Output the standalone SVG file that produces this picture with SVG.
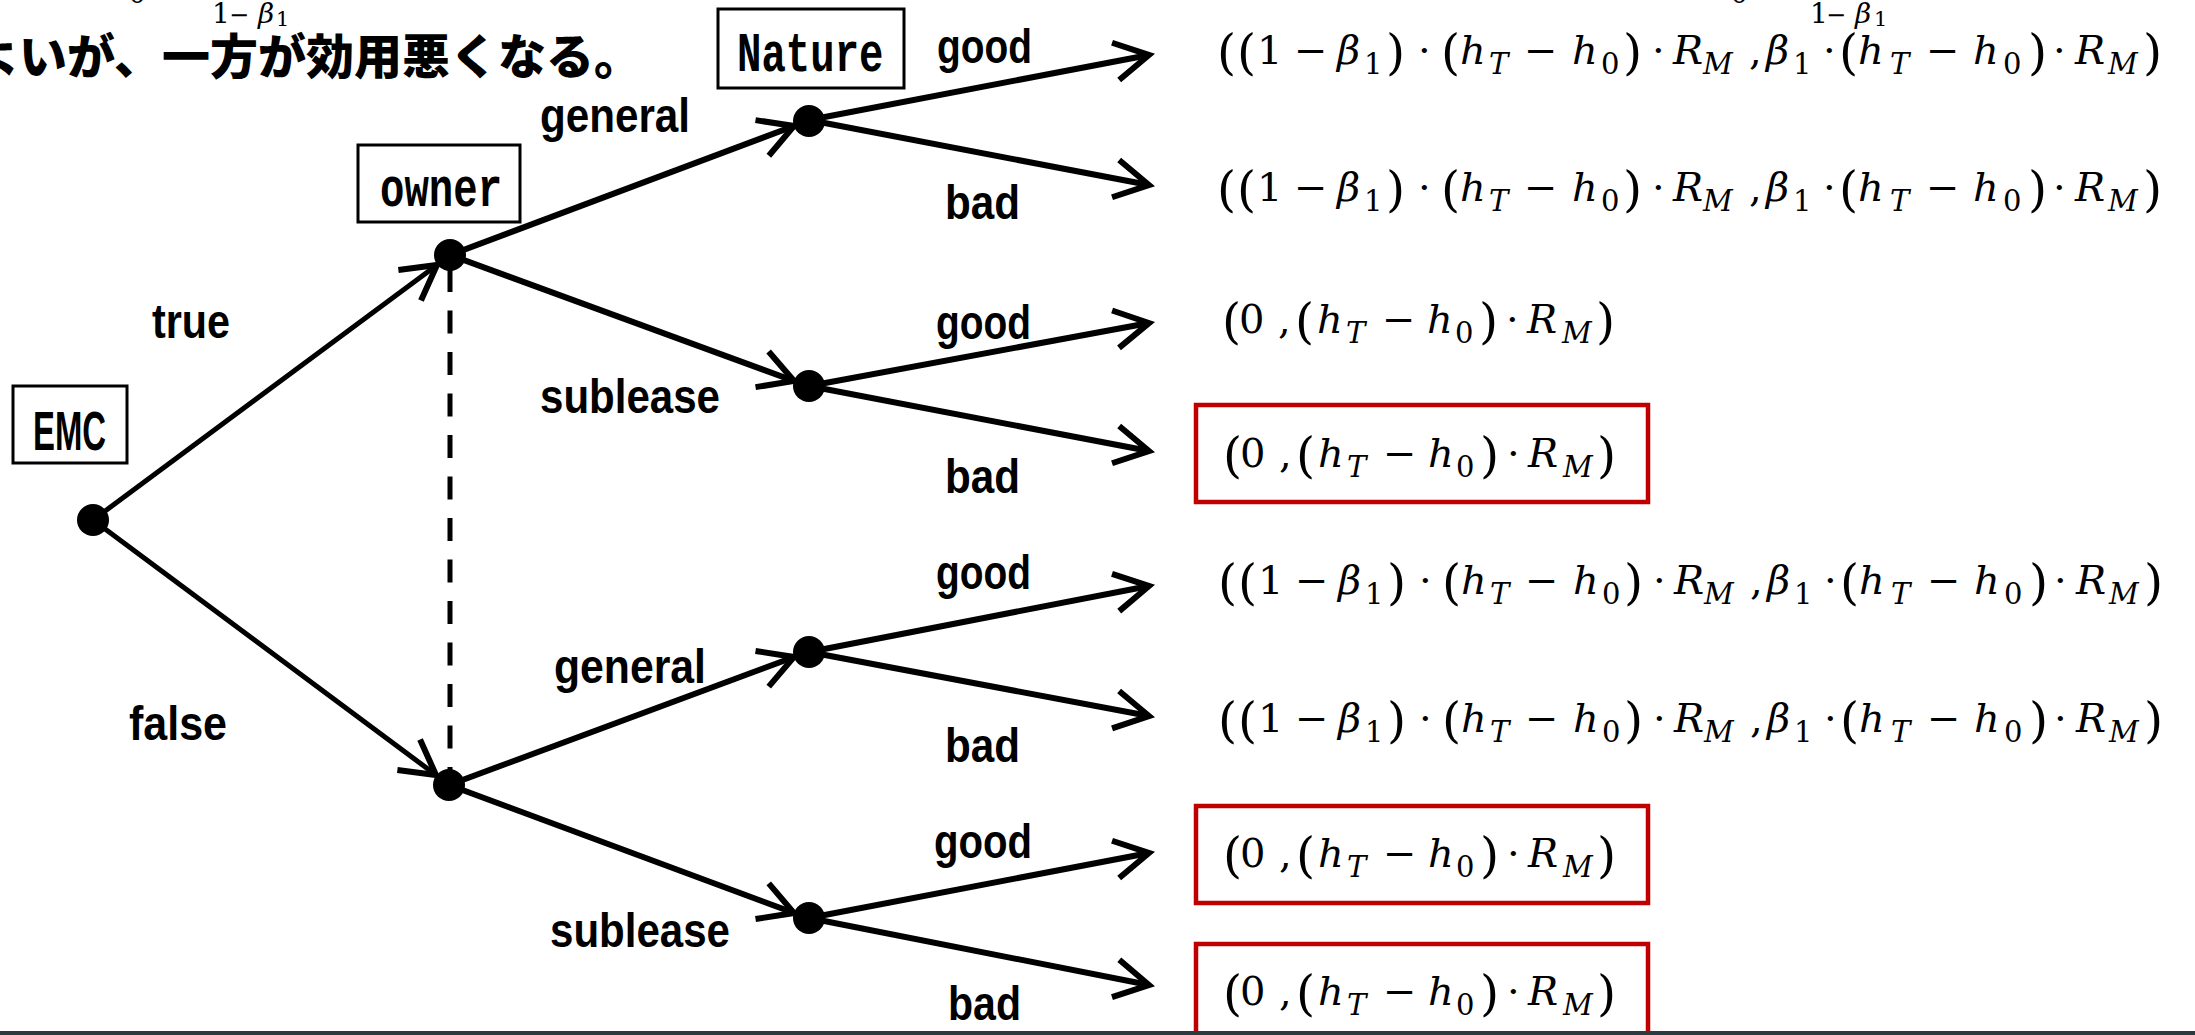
<svg xmlns="http://www.w3.org/2000/svg" width="2195" height="1035" viewBox="0 0 2195 1035">
<style>
.lbl{font-family:"Liberation Sans",Arial,sans-serif;font-weight:bold;font-size:48px;fill:#000}
.box{fill:#fff;stroke:#000;stroke-width:3}
.mono{font-family:"Liberation Mono","Courier New",monospace;font-weight:bold;font-size:55px;fill:#000}
.f{font-family:"DejaVu Serif","Liberation Serif",serif;font-size:40px;fill:#000}
.i{font-style:italic}
.p{font-size:49px}
.s{font-size:29px}
.e{stroke:#000;stroke-width:6;fill:none}
.e5{stroke:#000;stroke-width:5;fill:none}
.red{fill:none;stroke:#C00000;stroke-width:4.5}
.jp{font-family:"Noto Sans CJK JP","Noto Sans CJK SC",sans-serif;font-weight:900;font-size:48px;fill:#000}
.hd{font-family:"DejaVu Serif","Liberation Serif",serif;font-size:28px;fill:#000}
.hs{font-size:21px}
.hm{font-size:24px}
.h0{font-family:"DejaVu Serif","Liberation Serif",serif;font-size:29px;fill:#000}
</style>
<defs>
<marker id="ah" markerUnits="userSpaceOnUse" viewBox="-44 -26 56 52" markerWidth="56" markerHeight="52" refX="0" refY="0" orient="auto">
<path d="M-34,-19 L0,0 L-34,19" fill="none" stroke="#000" stroke-width="6"/>
</marker>
</defs>
<rect x="0" y="0" width="2195" height="1035" fill="#fff"/>

<g id="header">
<text class="jp" x="-29" y="74">よいが、一方が効用悪くなる。</text>
<text class="h0" x="128" y="3">0</text>
<text class="hd"><tspan x="212" y="23">1</tspan><tspan class="hm" x="229" y="23">−</tspan><tspan class="i" x="258" y="23">β</tspan><tspan class="hs" x="276" y="26">1</tspan></text>
<text class="h0" x="1730" y="3">0</text>
<text class="hd"><tspan x="1810" y="23">1</tspan><tspan class="hm" x="1826" y="23">−</tspan><tspan class="i" x="1855" y="23">β</tspan><tspan class="hs" x="1874" y="26">1</tspan></text>
</g>

<g id="connectors">
<line class="e5" x1="93" y1="520" x2="437" y2="265" marker-end="url(#ah)"/>
<line class="e5" x1="93" y1="520" x2="436" y2="775" marker-end="url(#ah)"/>
<line x1="450" y1="269" x2="450" y2="785" stroke="#000" stroke-width="5" stroke-dasharray="23 18.5"/>
<line class="e" x1="450" y1="255" x2="794" y2="126" marker-end="url(#ah)"/>
<line class="e" x1="450" y1="255" x2="794" y2="381" marker-end="url(#ah)"/>
<line class="e" x1="449" y1="785" x2="794" y2="657" marker-end="url(#ah)"/>
<line class="e" x1="449" y1="785" x2="794" y2="913" marker-end="url(#ah)"/>
<line class="e" x1="809" y1="120" x2="1149" y2="55" marker-end="url(#ah)"/>
<line class="e" x1="809" y1="120" x2="1149" y2="185" marker-end="url(#ah)"/>
<line class="e" x1="809" y1="386" x2="1149" y2="323" marker-end="url(#ah)"/>
<line class="e" x1="809" y1="386" x2="1149" y2="451" marker-end="url(#ah)"/>
<line class="e" x1="809" y1="652" x2="1149" y2="586" marker-end="url(#ah)"/>
<line class="e" x1="809" y1="652" x2="1149" y2="716" marker-end="url(#ah)"/>
<line class="e" x1="809" y1="918" x2="1149" y2="853" marker-end="url(#ah)"/>
<line class="e" x1="809" y1="918" x2="1149" y2="985" marker-end="url(#ah)"/>
</g>

<g id="node-emc">
<rect class="box" x="13" y="386" width="114" height="77"/>
<text class="lbl" x="33" y="450" style="font-size:56px" textLength="73" lengthAdjust="spacingAndGlyphs">EMC</text>
<circle cx="93" cy="520" r="16" fill="#000"/>
</g>
<g id="node-owner-1">
<rect class="box" x="358" y="145" width="162" height="77"/>
<text class="mono" transform="translate(380,206) scale(0.74,1)">owner</text>
<circle cx="450" cy="255" r="16" fill="#000"/>
</g>
<g id="node-owner-2">
<circle cx="449" cy="785" r="16" fill="#000"/>
</g>
<g id="node-nature-1">
<rect class="box" x="718" y="9" width="186" height="79"/>
<text class="mono" transform="translate(737,71) scale(0.74,1)">Nature</text>
<circle cx="809" cy="121" r="16" fill="#000"/>
</g>
<g id="node-nature-2"><circle cx="809" cy="386" r="16" fill="#000"/></g>
<g id="node-nature-3"><circle cx="809" cy="652" r="16" fill="#000"/></g>
<g id="node-nature-4"><circle cx="809" cy="918" r="16" fill="#000"/></g>

<g id="branch-labels">
<text class="lbl" x="540" y="132" textLength="150" lengthAdjust="spacingAndGlyphs">general</text>
<text class="lbl" x="152" y="338" textLength="78" lengthAdjust="spacingAndGlyphs">true</text>
<text class="lbl" x="540" y="413" textLength="180" lengthAdjust="spacingAndGlyphs">sublease</text>
<text class="lbl" x="554" y="683" textLength="152" lengthAdjust="spacingAndGlyphs">general</text>
<text class="lbl" x="129" y="740" textLength="98" lengthAdjust="spacingAndGlyphs">false</text>
<text class="lbl" x="550" y="947" textLength="180" lengthAdjust="spacingAndGlyphs">sublease</text>
<text class="lbl" x="937" y="63" textLength="95" lengthAdjust="spacingAndGlyphs">good</text>
<text class="lbl" x="945" y="219" textLength="75" lengthAdjust="spacingAndGlyphs">bad</text>
<text class="lbl" x="936" y="339" textLength="95" lengthAdjust="spacingAndGlyphs">good</text>
<text class="lbl" x="945" y="493" textLength="75" lengthAdjust="spacingAndGlyphs">bad</text>
<text class="lbl" x="936" y="589" textLength="95" lengthAdjust="spacingAndGlyphs">good</text>
<text class="lbl" x="945" y="762" textLength="75" lengthAdjust="spacingAndGlyphs">bad</text>
<text class="lbl" x="934" y="858" textLength="98" lengthAdjust="spacingAndGlyphs">good</text>
<text class="lbl" x="948" y="1020" textLength="73" lengthAdjust="spacingAndGlyphs">bad</text>
</g>

<g id="payoffs">
<g id="payoff-1" transform="translate(1221,64)"><text class="f"><tspan class="p" x="-4" y="5">(</tspan><tspan class="p" x="16" y="5">(</tspan><tspan x="36" y="0">1</tspan><tspan x="73" y="0">−</tspan><tspan class="i" x="116" y="0">β</tspan><tspan class="s" x="143" y="10">1</tspan><tspan class="p" x="165" y="5">)</tspan><tspan x="197" y="0">·</tspan><tspan class="p" x="220" y="5">(</tspan><tspan class="i" x="239" y="0">h</tspan><tspan class="s i" x="268" y="10">T</tspan><tspan x="303" y="0">−</tspan><tspan class="i" x="351" y="0">h</tspan><tspan class="s" x="380" y="10">0</tspan><tspan class="p" x="402" y="5">)</tspan><tspan x="431" y="0">·</tspan><tspan class="i" x="452" y="0">R</tspan><tspan class="s i" x="482" y="10">M</tspan><tspan x="528" y="0">,</tspan><tspan class="i" x="545" y="0">β</tspan><tspan class="s" x="572" y="10">1</tspan><tspan x="602" y="0">·</tspan><tspan class="p" x="618" y="5">(</tspan><tspan class="i" x="637" y="0">h</tspan><tspan class="s i" x="669" y="10">T</tspan><tspan x="705" y="0">−</tspan><tspan class="i" x="752" y="0">h</tspan><tspan class="s" x="782" y="10">0</tspan><tspan class="p" x="807" y="5">)</tspan><tspan x="832" y="0">·</tspan><tspan class="i" x="854" y="0">R</tspan><tspan class="s i" x="887" y="10">M</tspan><tspan class="p" x="922" y="5">)</tspan></text></g>
<g id="payoff-2" transform="translate(1221,201)"><text class="f"><tspan class="p" x="-4" y="5">(</tspan><tspan class="p" x="16" y="5">(</tspan><tspan x="36" y="0">1</tspan><tspan x="73" y="0">−</tspan><tspan class="i" x="116" y="0">β</tspan><tspan class="s" x="143" y="10">1</tspan><tspan class="p" x="165" y="5">)</tspan><tspan x="197" y="0">·</tspan><tspan class="p" x="220" y="5">(</tspan><tspan class="i" x="239" y="0">h</tspan><tspan class="s i" x="268" y="10">T</tspan><tspan x="303" y="0">−</tspan><tspan class="i" x="351" y="0">h</tspan><tspan class="s" x="380" y="10">0</tspan><tspan class="p" x="402" y="5">)</tspan><tspan x="431" y="0">·</tspan><tspan class="i" x="452" y="0">R</tspan><tspan class="s i" x="482" y="10">M</tspan><tspan x="528" y="0">,</tspan><tspan class="i" x="545" y="0">β</tspan><tspan class="s" x="572" y="10">1</tspan><tspan x="602" y="0">·</tspan><tspan class="p" x="618" y="5">(</tspan><tspan class="i" x="637" y="0">h</tspan><tspan class="s i" x="669" y="10">T</tspan><tspan x="705" y="0">−</tspan><tspan class="i" x="752" y="0">h</tspan><tspan class="s" x="782" y="10">0</tspan><tspan class="p" x="807" y="5">)</tspan><tspan x="832" y="0">·</tspan><tspan class="i" x="854" y="0">R</tspan><tspan class="s i" x="887" y="10">M</tspan><tspan class="p" x="922" y="5">)</tspan></text></g>
<g id="payoff-3" transform="translate(1226,333)"><text class="f"><tspan class="p" x="-4" y="5">(</tspan><tspan x="13" y="0">0</tspan><tspan x="52" y="0">,</tspan><tspan class="p" x="69" y="5">(</tspan><tspan class="i" x="91" y="0">h</tspan><tspan class="s i" x="120" y="10">T</tspan><tspan x="156" y="0">−</tspan><tspan class="i" x="201" y="0">h</tspan><tspan class="s" x="229" y="10">0</tspan><tspan class="p" x="253" y="5">)</tspan><tspan x="280" y="0">·</tspan><tspan class="i" x="301" y="0">R</tspan><tspan class="s i" x="336" y="10">M</tspan><tspan class="p" x="370" y="5">)</tspan></text></g>
<g id="payoff-4">
<rect class="red" x="1196" y="405" width="452" height="97"/>
<g transform="translate(1227,467)"><text class="f"><tspan class="p" x="-4" y="5">(</tspan><tspan x="13" y="0">0</tspan><tspan x="52" y="0">,</tspan><tspan class="p" x="69" y="5">(</tspan><tspan class="i" x="91" y="0">h</tspan><tspan class="s i" x="120" y="10">T</tspan><tspan x="156" y="0">−</tspan><tspan class="i" x="201" y="0">h</tspan><tspan class="s" x="229" y="10">0</tspan><tspan class="p" x="253" y="5">)</tspan><tspan x="280" y="0">·</tspan><tspan class="i" x="301" y="0">R</tspan><tspan class="s i" x="336" y="10">M</tspan><tspan class="p" x="370" y="5">)</tspan></text></g>
</g>
<g id="payoff-5" transform="translate(1222,594)"><text class="f"><tspan class="p" x="-4" y="5">(</tspan><tspan class="p" x="16" y="5">(</tspan><tspan x="36" y="0">1</tspan><tspan x="73" y="0">−</tspan><tspan class="i" x="116" y="0">β</tspan><tspan class="s" x="143" y="10">1</tspan><tspan class="p" x="165" y="5">)</tspan><tspan x="197" y="0">·</tspan><tspan class="p" x="220" y="5">(</tspan><tspan class="i" x="239" y="0">h</tspan><tspan class="s i" x="268" y="10">T</tspan><tspan x="303" y="0">−</tspan><tspan class="i" x="351" y="0">h</tspan><tspan class="s" x="380" y="10">0</tspan><tspan class="p" x="402" y="5">)</tspan><tspan x="431" y="0">·</tspan><tspan class="i" x="452" y="0">R</tspan><tspan class="s i" x="482" y="10">M</tspan><tspan x="528" y="0">,</tspan><tspan class="i" x="545" y="0">β</tspan><tspan class="s" x="572" y="10">1</tspan><tspan x="602" y="0">·</tspan><tspan class="p" x="618" y="5">(</tspan><tspan class="i" x="637" y="0">h</tspan><tspan class="s i" x="669" y="10">T</tspan><tspan x="705" y="0">−</tspan><tspan class="i" x="752" y="0">h</tspan><tspan class="s" x="782" y="10">0</tspan><tspan class="p" x="807" y="5">)</tspan><tspan x="832" y="0">·</tspan><tspan class="i" x="854" y="0">R</tspan><tspan class="s i" x="887" y="10">M</tspan><tspan class="p" x="922" y="5">)</tspan></text></g>
<g id="payoff-6" transform="translate(1222,732)"><text class="f"><tspan class="p" x="-4" y="5">(</tspan><tspan class="p" x="16" y="5">(</tspan><tspan x="36" y="0">1</tspan><tspan x="73" y="0">−</tspan><tspan class="i" x="116" y="0">β</tspan><tspan class="s" x="143" y="10">1</tspan><tspan class="p" x="165" y="5">)</tspan><tspan x="197" y="0">·</tspan><tspan class="p" x="220" y="5">(</tspan><tspan class="i" x="239" y="0">h</tspan><tspan class="s i" x="268" y="10">T</tspan><tspan x="303" y="0">−</tspan><tspan class="i" x="351" y="0">h</tspan><tspan class="s" x="380" y="10">0</tspan><tspan class="p" x="402" y="5">)</tspan><tspan x="431" y="0">·</tspan><tspan class="i" x="452" y="0">R</tspan><tspan class="s i" x="482" y="10">M</tspan><tspan x="528" y="0">,</tspan><tspan class="i" x="545" y="0">β</tspan><tspan class="s" x="572" y="10">1</tspan><tspan x="602" y="0">·</tspan><tspan class="p" x="618" y="5">(</tspan><tspan class="i" x="637" y="0">h</tspan><tspan class="s i" x="669" y="10">T</tspan><tspan x="705" y="0">−</tspan><tspan class="i" x="752" y="0">h</tspan><tspan class="s" x="782" y="10">0</tspan><tspan class="p" x="807" y="5">)</tspan><tspan x="832" y="0">·</tspan><tspan class="i" x="854" y="0">R</tspan><tspan class="s i" x="887" y="10">M</tspan><tspan class="p" x="922" y="5">)</tspan></text></g>
<g id="payoff-7">
<rect class="red" x="1196" y="806" width="452" height="97"/>
<g transform="translate(1227,867)"><text class="f"><tspan class="p" x="-4" y="5">(</tspan><tspan x="13" y="0">0</tspan><tspan x="52" y="0">,</tspan><tspan class="p" x="69" y="5">(</tspan><tspan class="i" x="91" y="0">h</tspan><tspan class="s i" x="120" y="10">T</tspan><tspan x="156" y="0">−</tspan><tspan class="i" x="201" y="0">h</tspan><tspan class="s" x="229" y="10">0</tspan><tspan class="p" x="253" y="5">)</tspan><tspan x="280" y="0">·</tspan><tspan class="i" x="301" y="0">R</tspan><tspan class="s i" x="336" y="10">M</tspan><tspan class="p" x="370" y="5">)</tspan></text></g>
</g>
<g id="payoff-8">
<rect class="red" x="1196" y="944" width="452" height="120"/>
<g transform="translate(1227,1005)"><text class="f"><tspan class="p" x="-4" y="5">(</tspan><tspan x="13" y="0">0</tspan><tspan x="52" y="0">,</tspan><tspan class="p" x="69" y="5">(</tspan><tspan class="i" x="91" y="0">h</tspan><tspan class="s i" x="120" y="10">T</tspan><tspan x="156" y="0">−</tspan><tspan class="i" x="201" y="0">h</tspan><tspan class="s" x="229" y="10">0</tspan><tspan class="p" x="253" y="5">)</tspan><tspan x="280" y="0">·</tspan><tspan class="i" x="301" y="0">R</tspan><tspan class="s i" x="336" y="10">M</tspan><tspan class="p" x="370" y="5">)</tspan></text></g>
</g>
</g>

<rect x="0" y="1031" width="2195" height="4" fill="#2b3940"/>
</svg>
